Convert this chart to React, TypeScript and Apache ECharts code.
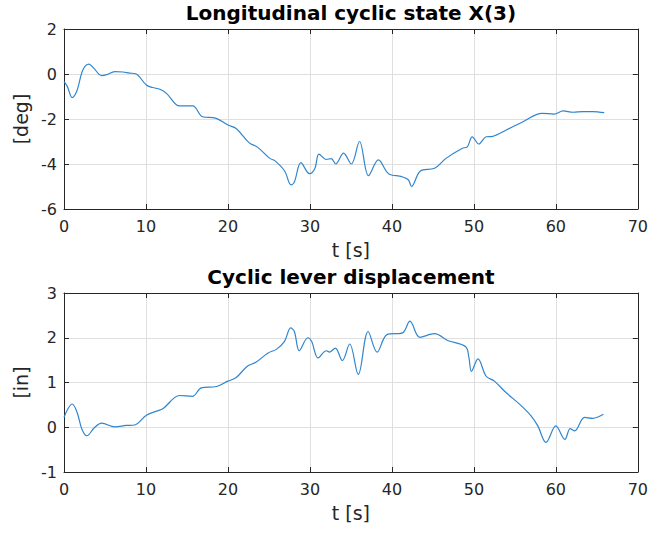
import React, { useEffect, useRef } from "react";
import * as echarts from "echarts";

const topTitle = "Longitudinal cyclic state X(3)";
const bottomTitle = "Cyclic lever displacement";
const xName = "t [s]";
const topYName = "[deg]";
const bottomYName = "[in]";

const topTime = [0, 0.4, 1.0, 1.6, 2.3, 3.05, 3.6, 4.6, 5.2, 6.2, 7.2, 8.0, 8.75, 10.05, 10.8, 11.7, 12.5, 14.1, 15.7, 16.9, 18.5, 20.0, 21.0, 22.6, 23.6, 25.1, 25.7, 26.9, 27.7, 28.1, 28.9, 29.95, 30.6, 31.1, 32.0, 32.6, 33.15, 34.1, 35.05, 36.05, 37.15, 38.35, 39.6, 41.2, 42.0, 42.4, 43.45, 45.2, 46.6, 48.6, 49.2, 49.8, 50.6, 51.5, 52.3, 53.95, 56.0, 58.3, 59.8, 60.9, 62.1, 63.3, 64.5, 65.9];
const topValues = [-0.34, -0.55, -1.05, -0.72, 0.18, 0.44, 0.27, -0.07, -0.03, 0.11, 0.09, 0.04, 0.01, -0.49, -0.6, -0.68, -0.86, -1.42, -1.42, -1.9, -1.96, -2.27, -2.42, -3.06, -3.25, -3.75, -3.85, -4.3, -4.93, -4.8, -3.94, -4.43, -4.2, -3.56, -3.8, -3.76, -4.0, -3.52, -4.0, -3.0, -4.52, -3.82, -4.43, -4.56, -4.7, -5.0, -4.32, -4.19, -3.75, -3.3, -3.24, -2.79, -3.11, -2.79, -2.77, -2.49, -2.12, -1.75, -1.78, -1.64, -1.7, -1.67, -1.67, -1.72];

const bottomTime = [0, 0.5, 1.0, 1.6, 2.2, 2.8, 3.7, 4.6, 6.2, 7.6, 8.6, 10.05, 11.3, 12.1, 14.1, 15.65, 16.75, 18.6, 20.0, 21.0, 22.4, 23.4, 24.9, 25.9, 26.9, 27.65, 28.1, 28.7, 29.75, 30.2, 31.0, 32.0, 32.4, 33.1, 33.95, 34.85, 35.9, 37.1, 38.2, 39.4, 41.3, 42.2, 43.4, 45.2, 46.8, 49.0, 49.4, 49.7, 50.5, 51.5, 52.5, 53.95, 55.6, 57.0, 57.8, 58.8, 60.0, 61.1, 61.75, 62.3, 63.5, 64.5, 65.8];
const bottomValues = [0.22, 0.42, 0.52, 0.33, -0.05, -0.19, -0.01, 0.09, 0.01, 0.04, 0.05, 0.27, 0.36, 0.42, 0.71, 0.69, 0.88, 0.91, 1.03, 1.11, 1.37, 1.45, 1.66, 1.74, 1.92, 2.22, 2.14, 1.71, 2.0, 1.92, 1.55, 1.71, 1.68, 1.77, 1.49, 1.86, 1.18, 2.14, 1.68, 2.07, 2.11, 2.37, 2.01, 2.09, 1.94, 1.8, 1.55, 1.25, 1.53, 1.14, 1.03, 0.77, 0.51, 0.25, 0.03, -0.34, 0.03, -0.27, -0.03, -0.08, 0.22, 0.2, 0.29];

const FONT = "DejaVu Sans";
const TEXT = "#262626";
const LINE = "#2f86cf";

function mainX(gridIndex: number) {
  return {
    type: "value",
    gridIndex,
    min: 0,
    max: 70,
    interval: 10,
    position: "bottom",
    name: xName,
    nameLocation: "middle",
    nameGap: 31,
    nameTextStyle: { fontFamily: FONT, fontSize: 19, color: TEXT },
    axisLine: { show: true, onZero: false, lineStyle: { color: TEXT, width: 1 } },
    axisTick: { show: true, inside: true, length: 5, lineStyle: { color: TEXT } },
    axisLabel: { fontFamily: FONT, fontSize: 16, color: TEXT, margin: 9 },
    splitLine: { show: true, lineStyle: { color: "#dfdfdf", width: 1 } },
  };
}
function mirrorX(gridIndex: number) {
  return {
    type: "value",
    gridIndex,
    min: 0,
    max: 70,
    interval: 10,
    position: "top",
    axisLine: { show: true, onZero: false, lineStyle: { color: TEXT, width: 1 } },
    axisTick: { show: true, inside: true, length: 5, lineStyle: { color: TEXT } },
    axisLabel: { show: false },
    splitLine: { show: false },
  };
}
function mainY(gridIndex: number, min: number, max: number, interval: number, name: string) {
  return {
    type: "value",
    gridIndex,
    min,
    max,
    interval,
    position: "left",
    name,
    nameLocation: "middle",
    nameGap: 32,
    nameTextStyle: { fontFamily: FONT, fontSize: 19, color: TEXT },
    axisLine: { show: true, onZero: false, lineStyle: { color: TEXT, width: 1 } },
    axisTick: { show: true, inside: true, length: 5, lineStyle: { color: TEXT } },
    axisLabel: { fontFamily: FONT, fontSize: 16, color: TEXT, margin: 7 },
    splitLine: { show: true, lineStyle: { color: "#dfdfdf", width: 1 } },
  };
}
function mirrorY(gridIndex: number, min: number, max: number, interval: number) {
  return {
    type: "value",
    gridIndex,
    min,
    max,
    interval,
    position: "right",
    axisLine: { show: true, onZero: false, lineStyle: { color: TEXT, width: 1 } },
    axisTick: { show: true, inside: true, length: 5, lineStyle: { color: TEXT } },
    axisLabel: { show: false },
    splitLine: { show: false },
  };
}

export default function App() {
  const ref = useRef<HTMLDivElement>(null);
  useEffect(() => {
    if (!ref.current) return;
    const chart = echarts.init(ref.current, undefined, { renderer: "svg" });
    const topData = topTime.map((t, i) => [t, topValues[i]]);
    const bottomData = bottomTime.map((t, i) => [t, bottomValues[i]]);
    chart.setOption({
      animation: false,
      backgroundColor: "#ffffff",
      grid: [
        { left: 64, top: 29, width: 574, height: 180 },
        { left: 64, top: 293, width: 574, height: 179 },
      ],
      xAxis: [mainX(0), mirrorX(0), mainX(1), mirrorX(1)],
      yAxis: [mainY(0, -6, 2, 2, topYName), mirrorY(0, -6, 2, 2), mainY(1, -1, 3, 1, bottomYName), mirrorY(1, -1, 3, 1)],
      graphic: [
        { type: "text", x: 351, y: 13, style: { text: topTitle, fontFamily: FONT, fontSize: 20, fontWeight: "bold", fill: "#000", textAlign: "center", textVerticalAlign: "middle" } },
        { type: "text", x: 351, y: 277, style: { text: bottomTitle, fontFamily: FONT, fontSize: 20, fontWeight: "bold", fill: "#000", textAlign: "center", textVerticalAlign: "middle" } },
      ],
      series: [
        { type: "line", xAxisIndex: 0, yAxisIndex: 0, data: topData, smooth: 0.35, symbol: "none", lineStyle: { color: LINE, width: 1.2 } },
        { type: "line", xAxisIndex: 2, yAxisIndex: 2, data: bottomData, smooth: 0.35, symbol: "none", lineStyle: { color: LINE, width: 1.2 } },
      ],
    });
    return () => chart.dispose();
  }, []);
  return <div ref={ref} style={{ position: "fixed", left: 0, top: 0, width: 651, height: 534 }} />;
}
